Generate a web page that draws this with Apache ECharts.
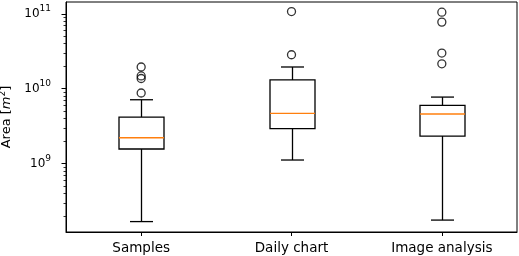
<!DOCTYPE html>
<html>
<head>
<meta charset="utf-8">
<script src="https://cdn.jsdelivr.net/npm/echarts@6/dist/echarts.min.js"></script>
<style>html,body{margin:0;padding:0;background:#fff}#c{width:519px;height:256px}</style>
</head>
<body>
<div id="c"></div>
<script>
// ---- data (m^2) ----
var categories = ['Samples', 'Daily chart', 'Image analysis'];
var whiskerLow  = [1.69e8, 1.12e9, 1.77e8];
var q1          = [1.57e9, 2.93e9, 2.34e9];
var median      = [2.22e9, 4.69e9, 4.60e9];
var q3          = [4.19e9, 1.31e10, 6.0e9];
var whiskerHigh = [7.13e9, 1.95e10, 7.74e9];
var outliersSamples = [8.77e9, 1.37e10, 1.48e10, 1.95e10];
var outliersDaily   = [2.84e10, 1.07e11];
var outliersImage   = [2.15e10, 2.99e10, 7.74e10, 1.05e11];
var majorTicks = [1e9, 1e10, 1e11];

var L = Math.log10;
var boxData = categories.map(function (c, i) {
  return [i, L(whiskerLow[i]), L(q1[i]), L(median[i]), L(q3[i]), L(whiskerHigh[i])];
});
var outlierData = [];
[outliersSamples, outliersDaily, outliersImage].forEach(function (arr, i) {
  arr.forEach(function (v) { outlierData.push([i, L(v)]); });
});
var majorLog = majorTicks.map(function (v) { return Math.round(L(v)); });
var minorLog = [];
for (var e = 8; e <= 11; e++) {
  for (var k = 2; k <= 9; k++) minorLog.push(e + L(k));
}
var yMin = 8.089, yMax = 11.157;
minorLog = minorLog.filter(function (v) { return v > yMin && v < yMax; });

var FONT = 'DejaVu Sans';
var chart = echarts.init(document.getElementById('c'), null, { renderer: 'canvas' });
chart.setOption({
  animation: false,
  backgroundColor: '#fff',
  grid: { left: 66, right: 2, top: 2, bottom: 24, containLabel: false, outerBoundsMode: 'none', show: true, borderColor: '#000', borderWidth: 1, backgroundColor: 'transparent' },
  xAxis: {
    type: 'category', data: categories, boundaryGap: true,
    axisLine: { show: true, lineStyle: { color: '#000', width: 1 } },
    axisTick: { show: true, alignWithLabel: true, length: 4, lineStyle: { color: '#000', width: 1 } },
    axisLabel: { color: '#000', fontFamily: FONT, fontSize: 13.5, margin: 9 },
    splitLine: { show: false }
  },
  yAxis: [{
    type: 'value', min: yMin, max: yMax,
    axisLine: { show: true, lineStyle: { color: '#000', width: 1 } },
    axisTick: { show: true, customValues: majorLog, length: 4.5, lineStyle: { color: '#000', width: 1 } },
    axisLabel: {
      customValues: majorLog, margin: 15, color: '#000',
      formatter: function (v) { return '{b|10}{s|' + Math.round(v) + '}'; },
      rich: {
        b: { fontFamily: FONT, fontSize: 12, color: '#000', lineHeight: 19 },
        s: { fontFamily: FONT, fontSize: 9, color: '#000', lineHeight: 9, verticalAlign: 'top' }
      }
    },
    splitLine: { show: false },
    name: '{n|Area [}{i|m}{s|2}{n|]}',
    nameLocation: 'middle', nameRotate: 90, nameGap: 49,
    nameTextStyle: {
      rich: {
        n: { fontFamily: FONT, fontSize: 13, color: '#000', lineHeight: 17 },
        i: { fontFamily: FONT, fontSize: 13, fontStyle: 'italic', color: '#000', lineHeight: 17 },
        s: { fontFamily: FONT, fontSize: 9, color: '#000', lineHeight: 9, verticalAlign: 'top' }
      }
    }
  }, {
    type: 'value', min: yMin, max: yMax, position: 'left',
    axisLine: { show: false },
    axisTick: { show: true, customValues: minorLog, length: 2.5, lineStyle: { color: '#000', width: 0.8 } },
    axisLabel: { show: false },
    splitLine: { show: false }
  }],
  series: [{
    type: 'custom',
    xAxisIndex: 0, yAxisIndex: 0,
    data: boxData,
    encode: { x: 0, y: [1, 2, 3, 4, 5] },
    renderItem: function (params, api) {
      var xi = api.value(0);
      var p = [1, 2, 3, 4, 5].map(function (d) { return api.coord([xi, api.value(d)]); });
      var cx = Math.round(p[0][0]) + 0.5;
      var hw = 22.5, cw = 11.5;
      var st = { stroke: '#000', lineWidth: 1.3, fill: null };
      return {
        type: 'group', children: [
          { type: 'line', shape: { x1: cx, y1: p[0][1], x2: cx, y2: p[1][1] }, style: st },
          { type: 'line', shape: { x1: cx, y1: p[3][1], x2: cx, y2: p[4][1] }, style: st },
          { type: 'line', shape: { x1: cx - cw, y1: p[0][1], x2: cx + cw, y2: p[0][1] }, style: st },
          { type: 'line', shape: { x1: cx - cw, y1: p[4][1], x2: cx + cw, y2: p[4][1] }, style: st },
          { type: 'rect', shape: { x: cx - hw, y: p[3][1], width: 2 * hw, height: p[1][1] - p[3][1] }, style: { stroke: '#000', lineWidth: 1.3, fill: '#fff' } },
          { type: 'line', shape: { x1: cx - hw, y1: p[2][1], x2: cx + hw, y2: p[2][1] }, style: { stroke: '#ff7f0e', lineWidth: 1.3 } }
        ]
      };
    }
  }, {
    type: 'scatter',
    xAxisIndex: 0, yAxisIndex: 0,
    data: outlierData,
    symbol: 'circle', symbolSize: 8,
    itemStyle: { color: 'rgba(0,0,0,0)', borderColor: '#000', borderWidth: 1.3 }
  }]
});
</script>
</body>
</html>
